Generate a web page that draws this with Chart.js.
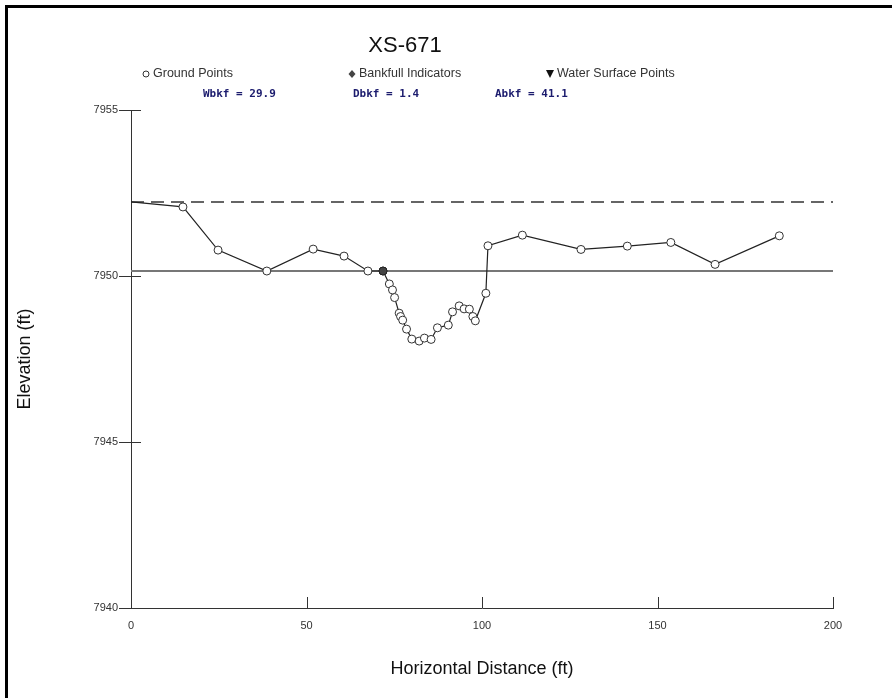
<!DOCTYPE html>
<html>
<head>
<meta charset="utf-8">
<script src="https://cdn.jsdelivr.net/npm/chart.js@4.4.1/dist/chart.umd.min.js"></script>
<style>
  body { margin: 0; background: #fff; }
  canvas { display: block; }
</style>
</head>
<body>
<canvas id="xs" width="892" height="698"></canvas>
<script>
// station (ft) et elevation (ft) des points de terrain
const stations = [0, 14.8, 24.8, 38.7, 51.9, 60.7, 67.5, 71.8, 73.6, 74.5, 75.1, 76.4, 76.8, 77.4, 78.5, 80.0,
  82.1, 83.6, 85.5, 87.3, 90.4, 91.6, 93.5, 94.9, 96.4, 97.4, 98.1, 101.1, 101.7, 111.5, 128.2, 141.4,
  153.8, 166.4, 184.7];
const elevations = [7952.23, 7952.08, 7950.78, 7950.15, 7950.81, 7950.6, 7950.15, 7950.15, 7949.76, 7949.58,
  7949.35, 7948.88, 7948.78, 7948.67, 7948.40, 7948.10, 7948.04, 7948.13, 7948.09, 7948.44, 7948.52,
  7948.92, 7949.10, 7949.01, 7949.0, 7948.78, 7948.65, 7949.48, 7950.91, 7951.23, 7950.80, 7950.90,
  7951.01, 7950.35, 7951.21];

const bankfullStation = [71.8];
const bankfullElev = [7950.15];

const bankfullStage = 7950.15;
const floodStage = 7952.23;
const xRange = [0, 200];

const xTicks = [0, 50, 100, 150, 200];
const yTicks = [7940, 7945, 7950, 7955];

const legendLabels = ['Ground Points', 'Bankfull Indicators', 'Water Surface Points'];
const statLabels = ['Wbkf = 29.9', 'Dbkf = 1.4', 'Abkf = 41.1'];

const ground = stations.map((s, i) => ({ x: s, y: elevations[i] }));
const bankfull = bankfullStation.map((s, i) => ({ x: s, y: bankfullElev[i] }));

// fond, cadre, titre et legende
const header = {
  id: 'header',
  beforeDraw(chart) {
    const ctx = chart.ctx;
    ctx.save();
    ctx.fillStyle = '#fff';
    ctx.fillRect(0, 0, chart.width, chart.height);
    ctx.fillStyle = '#000';
    ctx.fillRect(5, 5, chart.width - 5, 3);
    ctx.fillRect(5, 5, 3, chart.height - 5);
    ctx.restore();
  },
  afterDraw(chart) {
    const ctx = chart.ctx;
    ctx.save();
    ctx.fillStyle = '#111';
    ctx.textBaseline = 'middle';
    ctx.textAlign = 'center';
    ctx.font = '22px "Liberation Sans", Arial, sans-serif';
    ctx.fillText('XS-671', 405, 46);

    ctx.textAlign = 'left';
    ctx.font = '12.5px "Liberation Sans", Arial, sans-serif';
    ctx.fillStyle = '#333';
    const lx = [153, 359, 557];
    legendLabels.forEach((t, i) => ctx.fillText(t, lx[i], 74));
    // symboles
    ctx.strokeStyle = '#333';
    ctx.lineWidth = 1;
    ctx.beginPath();
    ctx.arc(146, 74, 3, 0, Math.PI * 2);
    ctx.stroke();
    ctx.fillStyle = '#444';
    ctx.beginPath();
    ctx.moveTo(352, 70); ctx.lineTo(355.5, 74); ctx.lineTo(352, 78); ctx.lineTo(348.5, 74);
    ctx.closePath();
    ctx.fill();
    ctx.fillStyle = '#111';
    ctx.beginPath();
    ctx.moveTo(546, 70); ctx.lineTo(554, 70); ctx.lineTo(550, 78);
    ctx.closePath();
    ctx.fill();

    ctx.font = 'bold 11px "DejaVu Sans Mono", monospace';
    ctx.fillStyle = '#1c1c6e';
    const sx = [203, 353, 495];
    statLabels.forEach((t, i) => ctx.fillText(t, sx[i], 94));

    // petites graduations vers l'interieur
    const xs = chart.scales.x, ys = chart.scales.y;
    ctx.strokeStyle = '#333';
    ctx.beginPath();
    xTicks.forEach(v => {
      const p = Math.round(xs.getPixelForValue(v)) + 0.5;
      ctx.moveTo(p, ys.bottom);
      ctx.lineTo(p, ys.bottom - 11);
    });
    yTicks.forEach(v => {
      const p = Math.round(ys.getPixelForValue(v)) + 0.5;
      ctx.moveTo(xs.left, p);
      ctx.lineTo(xs.left + 10, p);
    });
    ctx.stroke();
    ctx.restore();
  }
};

new Chart(document.getElementById('xs'), {
  type: 'scatter',
  data: {
    datasets: [
      {
        label: 'Bankfull Indicators',
        data: bankfull,
        pointStyle: 'circle',
        pointRadius: 4,
        pointBackgroundColor: '#444',
        pointBorderColor: '#222',
        pointBorderWidth: 1,
        showLine: false,
        order: 0
      },
      {
        label: 'Ground Points',
        data: ground,
        showLine: true,
        borderColor: '#222',
        borderWidth: 1.2,
        pointRadius: ground.map((p, i) => i === 0 ? 0 : 4),
        pointBackgroundColor: '#fff',
        pointBorderColor: '#333',
        pointBorderWidth: 1,
        order: 1
      },
      {
        label: 'bankfull stage',
        data: xRange.map(x => ({ x: x, y: bankfullStage })),
        showLine: true,
        borderColor: '#777',
        borderWidth: 2,
        pointRadius: 0,
        order: 2
      },
      {
        label: 'flood prone',
        data: xRange.map(x => ({ x: x, y: floodStage })),
        showLine: true,
        borderColor: '#333',
        borderWidth: 1.5,
        borderDash: [13, 7],
        pointRadius: 0,
        order: 3
      }
    ]
  },
  options: {
    responsive: false,
    animation: false,
    devicePixelRatio: 1,
    layout: { padding: { top: 110, right: 59, bottom: 0, left: 0 } },
    plugins: {
      legend: { display: false },
      tooltip: { enabled: false }
    },
    scales: {
      x: {
        type: 'linear',
        min: 0,
        max: 200,
        afterFit: s => { s.height = 90; },
        afterBuildTicks: s => { s.ticks = xTicks.map(v => ({ value: v })); },
        ticks: {
          padding: 11,
          color: '#333',
          callback: v => String(v),
          font: { family: '"Liberation Sans", Arial, sans-serif', size: 11 }
        },
        grid: { drawOnChartArea: false, drawTicks: false },
        border: { color: '#333', width: 1 },
        title: {
          display: true,
          text: 'Horizontal Distance (ft)',
          color: '#111',
          font: { family: '"Liberation Sans", Arial, sans-serif', size: 18 },
          padding: { bottom: 18 }
        }
      },
      y: {
        type: 'linear',
        min: 7940,
        max: 7955,
        afterFit: s => { s.width = 131; },
        afterBuildTicks: s => { s.ticks = yTicks.map(v => ({ value: v })); },
        ticks: {
          padding: 1,
          color: '#333',
          callback: v => String(v),
          font: { family: '"Liberation Sans", Arial, sans-serif', size: 11 }
        },
        grid: { drawOnChartArea: false, tickLength: 12, color: '#333' },
        border: { color: '#333', width: 1 },
        title: {
          display: true,
          text: 'Elevation (ft)',
          color: '#111',
          font: { family: '"Liberation Sans", Arial, sans-serif', size: 18 },
          padding: { top: 14 }
        }
      }
    }
  },
  plugins: [header]
});
</script>
</body>
</html>
